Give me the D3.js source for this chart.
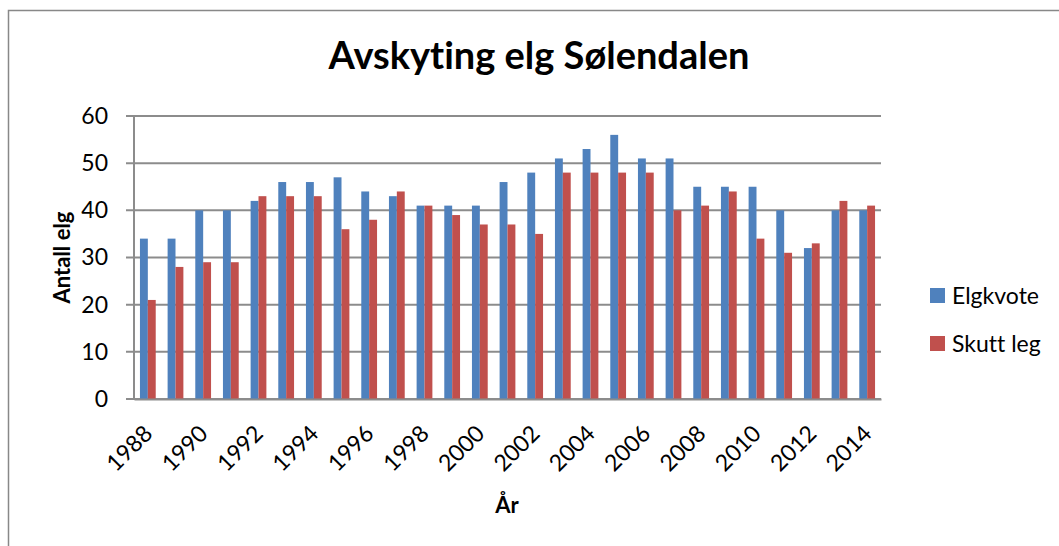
<!DOCTYPE html>
<html>
<head>
<meta charset="utf-8">
<script src="https://cdn.jsdelivr.net/npm/d3@7"></script>
<style>
  body { margin: 0; background: #fff; }
  text {
    font-family: Lato, "Liberation Sans", sans-serif;
    fill: #000;
    font-variant-ligatures: none;
    font-feature-settings: "liga" 0, "clig" 0, "dlig" 0;
  }
</style>
</head>
<body>
<div id="chart"></div>
<script>
const years = d3.range(1988, 2015).map(String);
const elgkvote = [34, 34, 40, 40, 42, 46, 46, 47, 44, 43, 41, 41, 41, 46, 48, 51, 53, 56, 51, 51, 45, 45, 45, 40, 32, 40, 40];
const skuttLeg = [21, 28, 29, 29, 43, 43, 43, 36, 38, 44, 41, 39, 37, 37, 35, 48, 48, 48, 48, 40, 41, 44, 34, 31, 33, 42, 41];
const seriesNames = ["Elgkvote", "Skutt leg"];
const colors = ["#4F81BD", "#C0504D"];
const yTicks = [0, 10, 20, 30, 40, 50, 60];

const size = { x: 1059, y: 546 };
const margin = { top: 116, bottom: 147, left: 134, right: 178 };
const font = "Lato, 'Liberation Sans', sans-serif";

const svg = d3.select("#chart")
  .append("svg")
  .attr("width", size.x)
  .attr("height", size.y);

// outer chart border
svg.append("rect")
  .attr("x", 8.5).attr("y", 10.5)
  .attr("width", size.x + 20).attr("height", size.y + 20)
  .attr("fill", "none")
  .attr("stroke", "#888")
  .attr("stroke-width", 1.5);

const xScale = d3.scaleBand()
  .domain(years)
  .range([margin.left, size.x - margin.right])
  .paddingInner(0.43)
  .paddingOuter(0.215);

const xSub = d3.scaleBand()
  .domain(seriesNames)
  .range([0, xScale.bandwidth()]);

const yScale = d3.scaleLinear()
  .domain([0, 60])
  .range([size.y - margin.bottom, margin.top]);

// grid
svg.append("g")
  .selectAll("line")
  .data(yTicks)
  .join("line")
  .attr("x1", margin.left - 8)
  .attr("x2", size.x - margin.right)
  .attr("y1", d => yScale(d))
  .attr("y2", d => yScale(d))
  .attr("stroke", "#8c8c8c")
  .attr("stroke-width", 2);

// y axis line
svg.append("line")
  .attr("x1", margin.left).attr("x2", margin.left)
  .attr("y1", yScale(60)).attr("y2", yScale(0))
  .attr("stroke", "#8c8c8c")
  .attr("stroke-width", 2);

// y labels
const yAxis = svg.append("g")
  .attr("transform", `translate(${margin.left - 12},0)`)
  .call(d3.axisLeft(yScale).tickValues(yTicks).tickSize(0).tickPadding(14));
yAxis.select(".domain").remove();
yAxis.selectAll("text")
  .attr("font-size", 23)
  .attr("font-family", font);

// bars
const groups = svg.append("g")
  .selectAll("g")
  .data(years.map((y, i) => ({ year: y, values: [elgkvote[i], skuttLeg[i]] })))
  .join("g")
  .attr("transform", d => `translate(${xScale(d.year)},0)`);

groups.selectAll("rect")
  .data(d => d.values.map((v, k) => ({ name: seriesNames[k], value: v, color: colors[k] })))
  .join("rect")
  .attr("x", d => xSub(d.name))
  .attr("y", d => yScale(d.value))
  .attr("width", xSub.bandwidth())
  .attr("height", d => yScale(0) - yScale(d.value))
  .attr("fill", d => d.color);

// x axis
const xAxis = svg.append("g")
  .attr("transform", `translate(0,${yScale(0)})`)
  .call(d3.axisBottom(xScale)
    .tickValues(years.filter((d, i) => i % 2 === 0))
    .tickSize(0));
xAxis.select(".domain")
  .attr("stroke", "#8c8c8c")
  .attr("stroke-width", 2);
xAxis.selectAll("text")
  .attr("font-size", 23)
  .attr("font-family", font)
  .attr("text-anchor", "end")
  .attr("x", 0)
  .attr("y", 0)
  .attr("dy", 0)
  .attr("transform", "translate(6,36) rotate(-45)");

// titles
svg.append("text")
  .text("Avskyting elg Sølendalen")
  .attr("x", 539)
  .attr("y", 69)
  .attr("text-anchor", "middle")
  .attr("font-size", 38)
  .attr("font-weight", "bold");

svg.append("text")
  .text("År")
  .attr("x", 507)
  .attr("y", 513)
  .attr("text-anchor", "middle")
  .attr("font-size", 22)
  .attr("font-weight", "bold");

svg.append("text")
  .text("Antall elg")
  .attr("transform", `translate(70,${yScale(30)}) rotate(-90)`)
  .attr("text-anchor", "middle")
  .attr("font-size", 22)
  .attr("font-weight", "bold");

// legend
const legend = svg.append("g")
  .selectAll("g")
  .data(seriesNames)
  .join("g")
  .attr("transform", (d, i) => `translate(930,${288 + i * 48})`);

legend.append("rect")
  .attr("width", 15)
  .attr("height", 15)
  .attr("fill", (d, i) => colors[i]);

legend.append("text")
  .text(d => d)
  .attr("x", 22)
  .attr("y", 16)
  .attr("font-size", 23);
</script>
</body>
</html>
